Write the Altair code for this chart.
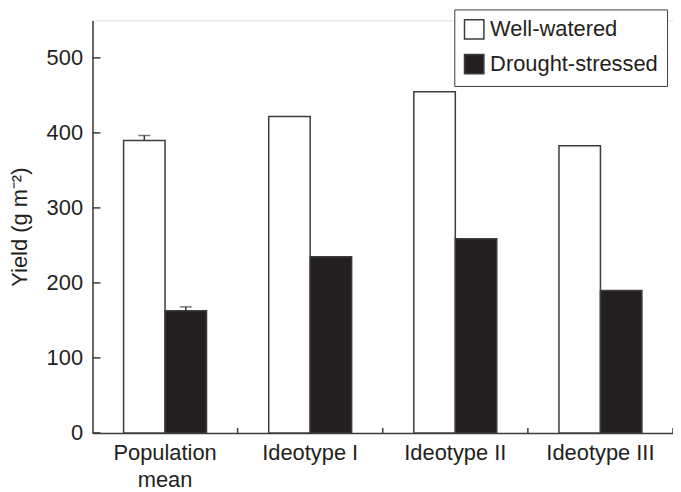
import altair as alt
import pandas as pd

groups = ["Population mean", "Ideotype I", "Ideotype II", "Ideotype III"]
treatments = ["Well-watered", "Drought-stressed"]
well_watered = [390, 422, 455, 383]
drought_stressed = [163, 235, 259, 190]
err_group = ["Population mean", "Population mean"]
err_treatment = ["Well-watered", "Drought-stressed"]
err_value = [390, 163]
err_high = [396.5, 168]
y_tick_values = [0, 100, 200, 300, 400, 500]

rows = []
for g, w, d in zip(groups, well_watered, drought_stressed):
    rows.append({"group": g, "treatment": "Well-watered", "yield": w})
    rows.append({"group": g, "treatment": "Drought-stressed", "yield": d})
df = pd.DataFrame(rows)
err_df = pd.DataFrame({"group": err_group, "treatment": err_treatment,
                       "lo": err_value, "hi": err_high})
ytick_df = pd.DataFrame({"v": y_tick_values})
xtick_start_df = pd.DataFrame({"group": groups[1:]})
xtick_end_df = pd.DataFrame({"group": groups[-1:]})

W = 584
H = 415
FONT = "Liberation Sans"
FS = 22
INK = "#231f20"
LINE = "#3c3c3c"

xscale = alt.Scale(domain=groups, paddingInner=0, paddingOuter=0)
xoff = alt.XOffset("treatment:N", scale=alt.Scale(domain=treatments, paddingInner=0, paddingOuter=0.75))
yscale = alt.Scale(domain=[0, 550], nice=False, zero=True)

bars = alt.Chart(df).mark_bar(stroke=LINE, strokeWidth=1.5).encode(
    x=alt.X("group:N", scale=xscale, sort=groups,
            axis=alt.Axis(title=None, ticks=False, domainColor=LINE, domainWidth=1.5,
                          labelAngle=0, labelFont=FONT, labelFontSize=FS, labelColor=INK,
                          labelPadding=10, labelLineHeight=27,
                          labelExpr="datum.value == 'Population mean' ? ['Population', 'mean'] : datum.value")),
    xOffset=xoff,
    y=alt.Y("yield:Q", scale=yscale,
            axis=alt.Axis(title="Yield (g m⁻²)", values=y_tick_values, ticks=False,
                          grid=False, domainColor=LINE, domainWidth=1.5,
                          labelFont=FONT, labelFontSize=FS, labelColor=INK, labelPadding=10,
                          titleFont=FONT, titleFontSize=FS, titleColor=INK, titleFontWeight="normal",
                          titlePadding=15)),
    fill=alt.Fill("treatment:N", scale=alt.Scale(domain=treatments, range=["white", INK]),
                  legend=alt.Legend(title=None, orient="none", legendX=364, legendY=-11,
                                    symbolType="square", symbolSize=380,
                                    symbolStrokeColor=LINE, symbolStrokeWidth=1.5,
                                    labelFont=FONT, labelFontSize=FS, labelColor=INK,
                                    labelLimit=400,
                                    labelOffset=5, rowPadding=9, padding=9,
                                    strokeColor=LINE, fillColor="white")),
)

rule = alt.Chart(err_df).mark_rule(color=LINE, strokeWidth=1.5).encode(
    x=alt.X("group:N", scale=xscale, sort=groups),
    xOffset=xoff,
    y=alt.Y("lo:Q", scale=yscale),
    y2="hi:Q",
)
cap = alt.Chart(err_df).mark_tick(color=LINE, thickness=1.5, size=12, orient="horizontal").encode(
    x=alt.X("group:N", scale=xscale, sort=groups),
    xOffset=xoff,
    y=alt.Y("hi:Q", scale=yscale),
)

# inward-pointing axis ticks
yticks = alt.Chart(ytick_df).mark_rule(color=LINE, strokeWidth=1.5).encode(
    y=alt.Y("v:Q", scale=yscale),
    x=alt.value(0), x2=alt.value(8),
)
xticks_a = alt.Chart(xtick_start_df).mark_rule(color=LINE, strokeWidth=1.5).encode(
    x=alt.X("group:N", scale=xscale, sort=groups, bandPosition=0),
    y=alt.value(H), y2=alt.value(H - 5),
)
xticks_b = alt.Chart(xtick_end_df).mark_rule(color=LINE, strokeWidth=1.5).encode(
    x=alt.X("group:N", scale=xscale, sort=groups, bandPosition=1),
    y=alt.value(H), y2=alt.value(H - 5),
)

chart = alt.layer(bars, rule, cap, yticks, xticks_a, xticks_b).properties(
    width=W, height=H,
    autosize=alt.AutoSizeParams(type="none"),
    padding={"left": 85, "top": 11, "right": 0, "bottom": 58},
).configure_view(stroke="transparent", strokeWidth=0).configure(font=FONT)

chart.save("out.html", embed_options={"renderer": "svg", "actions": False})
